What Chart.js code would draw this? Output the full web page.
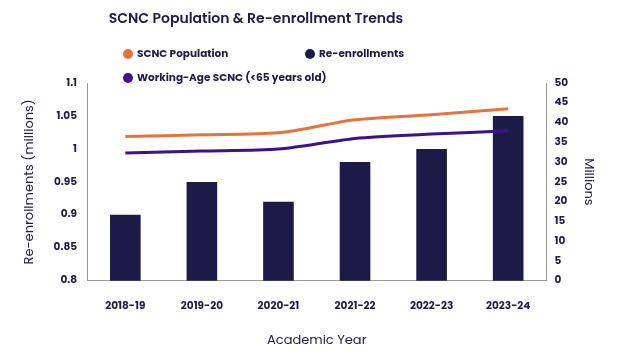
<!DOCTYPE html>
<html>
<head>
<meta charset="utf-8">
<script src="https://cdn.jsdelivr.net/npm/chart.js@4"></script>
<style>
  html, body { margin: 0; padding: 0; background: #fff; }
  #wrap { position: relative; width: 629px; height: 358px; font-family: Poppins, Inter, 'Open Sans', sans-serif; }
  #title { position: absolute; left: 0; width: 512px; top: 8px; text-align: center; font-size: 14px; font-weight: 600; color: #1f1b45; }
  #legend { position: absolute; left: 0; top: 0; }
  .item { position: absolute; display: flex; align-items: center; font-size: 10.5px; font-weight: 700; color: #1f1b45; white-space: nowrap; }
  .dot { width: 10px; height: 10px; border-radius: 50%; margin-right: 4px; }
  canvas { position: absolute; left: 0; top: 0; }
</style>
</head>
<body>
<div id="wrap">
  <canvas id="chart" width="629" height="358"></canvas>
  <div id="title">SCNC Population &amp; Re-enrollment Trends</div>
  <div id="legend"></div>
</div>
<script>
// Data
const years = ['2018-19', '2019-20', '2020-21', '2021-22', '2022-23', '2023-24'];
const reEnrollments = [0.90, 0.95, 0.92, 0.98, 1.00, 1.05];      // millions, left axis
const scncPopulation = [36.5, 36.9, 37.4, 40.7, 42.0, 43.5];     // millions, right axis
const workingAge = [32.3, 32.8, 33.3, 36.0, 37.1, 37.9];         // millions, right axis

const NAVY = '#1e1a48';
const ORANGE = '#e4743a';
const PURPLE = '#40108c';
const tickFont = { family: "Poppins, Inter, 'Open Sans', sans-serif", size: 10.5, weight: '700' };
const titleFont = { family: "Poppins, Inter, 'Open Sans', sans-serif", size: 13 };

// legend (HTML, positioned like the source)
const legendItems = [
    { label: 'SCNC Population', color: ORANGE, x: 123, y: 46 },
    { label: 'Re-enrollments', color: NAVY, x: 305, y: 46 },
    { label: 'Working-Age SCNC (<65 years old)', color: PURPLE, x: 123, y: 70 }
];
const legendEl = document.getElementById('legend');
legendItems.forEach(it => {
    const div = document.createElement('div');
    div.className = 'item';
    div.style.left = it.x + 'px';
    div.style.top = it.y + 'px';
    const dot = document.createElement('span');
    dot.className = 'dot';
    dot.style.background = it.color;
    const txt = document.createElement('span');
    txt.textContent = it.label;
    div.appendChild(dot);
    div.appendChild(txt);
    legendEl.appendChild(div);
});

const ctx = document.getElementById('chart').getContext('2d');
new Chart(ctx, {
    type: 'bar',
    data: {
        labels: years,
        datasets: [
            {
                type: 'line', label: 'SCNC Population', data: scncPopulation, yAxisID: 'y1',
                borderColor: ORANGE, backgroundColor: ORANGE, borderWidth: 3,
                pointRadius: 0, tension: 0.25, order: 0
            },
            {
                type: 'line', label: 'Working-Age SCNC (<65 years old)', data: workingAge, yAxisID: 'y1',
                borderColor: PURPLE, backgroundColor: PURPLE, borderWidth: 3,
                pointRadius: 0, tension: 0.25, order: 1
            },
            {
                label: 'Re-enrollments', data: reEnrollments, yAxisID: 'y',
                backgroundColor: NAVY, barPercentage: 0.4, categoryPercentage: 1, order: 2
            }
        ]
    },
    options: {
        responsive: false,
        animation: false,
        layout: { padding: { top: 83, left: 18, right: 24, bottom: 5 } },
        plugins: { legend: { display: false }, tooltip: { enabled: false } },
        scales: {
            x: {
                grid: { display: false, drawTicks: false },
                border: { color: '#9a9a9a', width: 1 },
                ticks: { color: '#1f1b45', font: tickFont, padding: 19, maxRotation: 0 },
                title: { display: true, text: 'Academic Year', color: '#1f1b45', font: titleFont, padding: { top: 2 } }
            },
            y: {
                position: 'left', min: 0.8, max: 1.1,
                grid: { display: false, drawTicks: false },
                border: { color: '#9a9a9a', width: 1 },
                ticks: { stepSize: 0.05, color: '#1f1b45', font: tickFont, padding: 10,
                         callback: v => parseFloat(v.toFixed(2)).toString() },
                title: { display: true, text: 'Re-enrollments (millions)', color: '#1f1b45', font: titleFont, padding: { bottom: 6 } }
            },
            y1: {
                position: 'right', min: 0, max: 50,
                grid: { display: false, drawTicks: false },
                border: { color: '#9a9a9a', width: 1 },
                ticks: { stepSize: 5, color: '#1f1b45', font: tickFont, padding: 8 },
                title: { display: true, text: 'Millions', color: '#1f1b45', font: titleFont, padding: { top: 9 } }
            }
        }
    }
});
</script>
</body>
</html>
